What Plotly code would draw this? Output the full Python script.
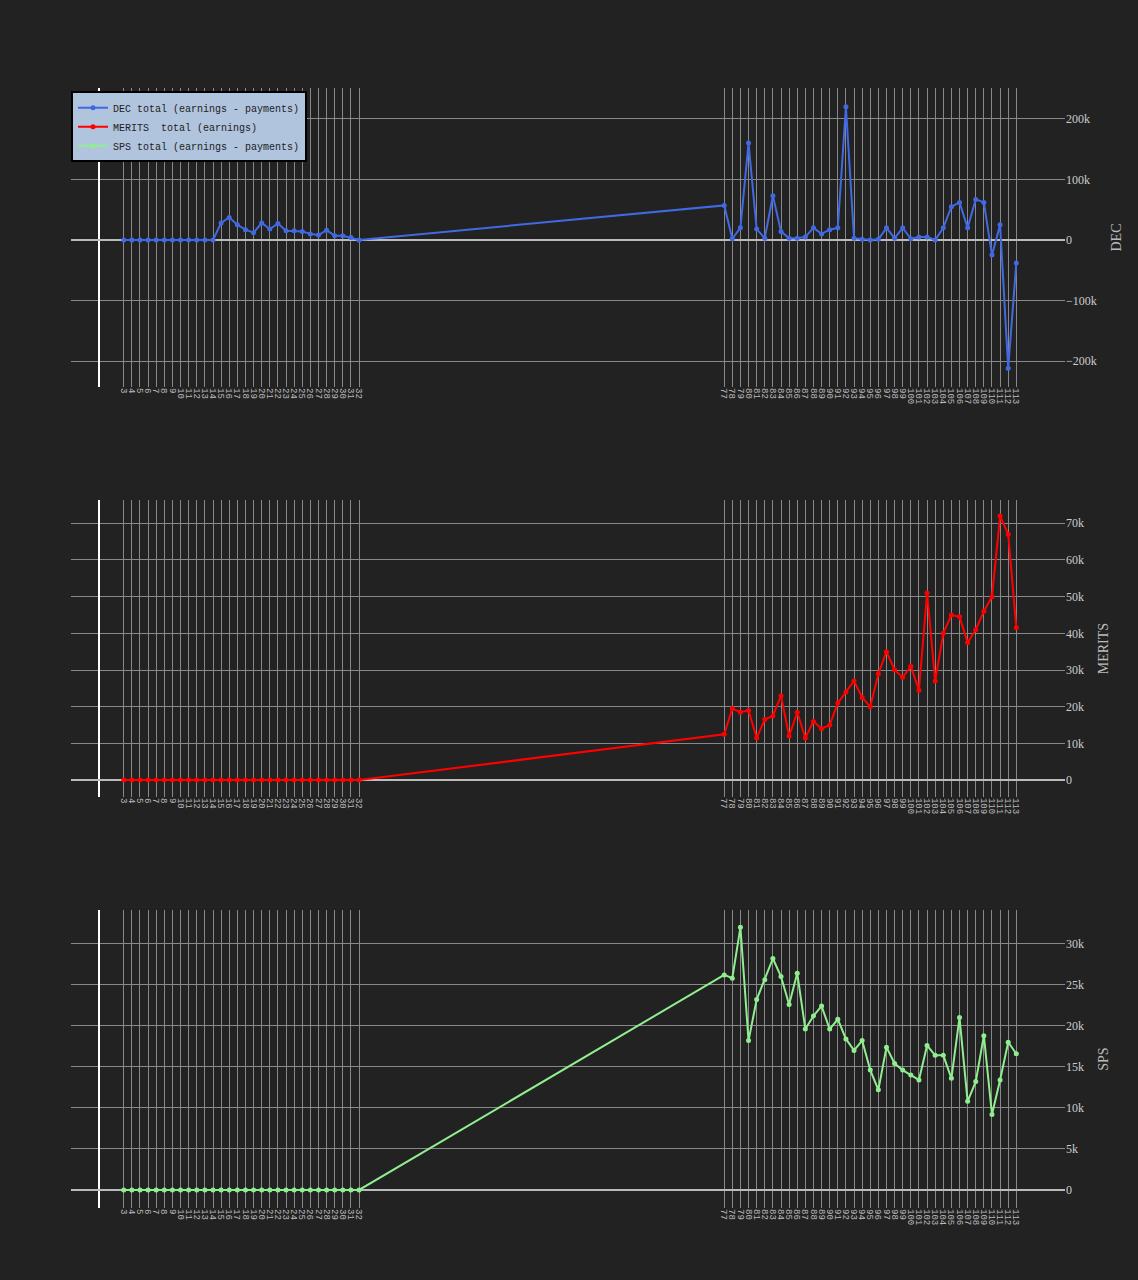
import plotly.graph_objects as go
from plotly.subplots import make_subplots

seasons = list(range(3, 33)) + list(range(77, 114))

dec_left = [0]*12 + [28000, 37000, 25000, 17000, 12000, 28000, 18000, 27000, 15000, 15000,
                     14000, 10000, 8000, 16000, 7000, 7000, 4000, 0]
dec_right = [57000, 2000, 20000, 160000, 18000, 3000, 73000, 14000, 3000, 3000, 5000, 20000,
             10000, 17000, 20000, 220000, 3000, 1000, 0, 1000, 20000, 3000, 20000, 2000, 5000,
             5000, 0, 20000, 55000, 62000, 20000, 67000, 62000, -25000, 25000, -212000, -38000]
dec = dec_left + dec_right

merits = [0]*30 + [12500, 19500, 18500, 19000, 11500, 16500, 17500, 23000, 12000, 18500, 11500,
                   16000, 14000, 15000, 21000, 24000, 27000, 22500, 20000, 29000, 35000, 30000,
                   28000, 31000, 24500, 51000, 27000, 40000, 45000, 44500, 37500, 41000, 46000,
                   50000, 72000, 67000, 41500]

sps = [0]*30 + [26200, 25800, 32000, 18200, 23200, 25600, 28200, 26000, 22600, 26400, 19600,
                21200, 22400, 19600, 20800, 18400, 17000, 18200, 14600, 12200, 17400, 15400,
                14600, 14000, 13400, 17600, 16400, 16400, 13600, 21000, 10800, 13200, 18800,
                9200, 13400, 18000, 16600]

names = ["DEC total (earnings - payments)", "MERITS  total (earnings)", "SPS total (earnings - payments)"]
colors = ["#4169e1", "#ff0000", "#90ee90"]
titles = ["DEC", "MERITS", "SPS"]
series = [dec, merits, sps]
yranges = [[-243000, 251000], [-4600, 76300], [-2200, 34100]]
domains = [[0.733, 1.0], [0.367, 0.632], [0.0, 0.266]]

fig = make_subplots(rows=3, cols=1)
for i in range(3):
    fig.add_trace(go.Scatter(x=seasons, y=series[i], mode="lines+markers", name=names[i],
                             line=dict(color=colors[i], width=2), marker=dict(size=5, color=colors[i])),
                  row=i+1, col=1)
    ax = "" if i == 0 else str(i+1)
    fig.layout["xaxis"+ax].update(range=[-3.5, 119], tickvals=seasons, ticktext=[str(s) for s in seasons],
                                  tickangle=90, showgrid=True, gridcolor="#888", gridwidth=1,
                                  zeroline=True, zerolinecolor="#ffffff", zerolinewidth=2,
                                  tickfont=dict(family="Courier New, monospace", size=9, color="#bbb"))
    fig.layout["yaxis"+ax].update(range=yranges[i], domain=domains[i], side="right",
                                  showgrid=True, gridcolor="#888", zeroline=True,
                                  zerolinecolor="#bbb", zerolinewidth=2, tickformat="~s",
                                  title=dict(text=titles[i], font=dict(family="Times New Roman, serif", size=14, color="#bbb")),
                                  tickfont=dict(family="Times New Roman, serif", size=12, color="#ccc"))

fig.update_layout(width=1138, height=1280, paper_bgcolor="#222222", plot_bgcolor="#222222",
                  margin=dict(l=71, r=73, t=88, b=72),
                  legend=dict(x=0.0, y=0.997, xanchor="left", yanchor="top", bgcolor="#b0c4de",
                              bordercolor="#000", borderwidth=2, tracegroupgap=0,
                              font=dict(family="Courier New, monospace", size=10, color="#222")))
fig.write_html("out.html", config={"displayModeBar": False})
with open("out.html", encoding="utf-8") as f:
    html = f.read()
html = html.replace("<body>", '<body style="margin:0;background:#222222">', 1)
with open("out.html", "w", encoding="utf-8") as f:
    f.write(html)
